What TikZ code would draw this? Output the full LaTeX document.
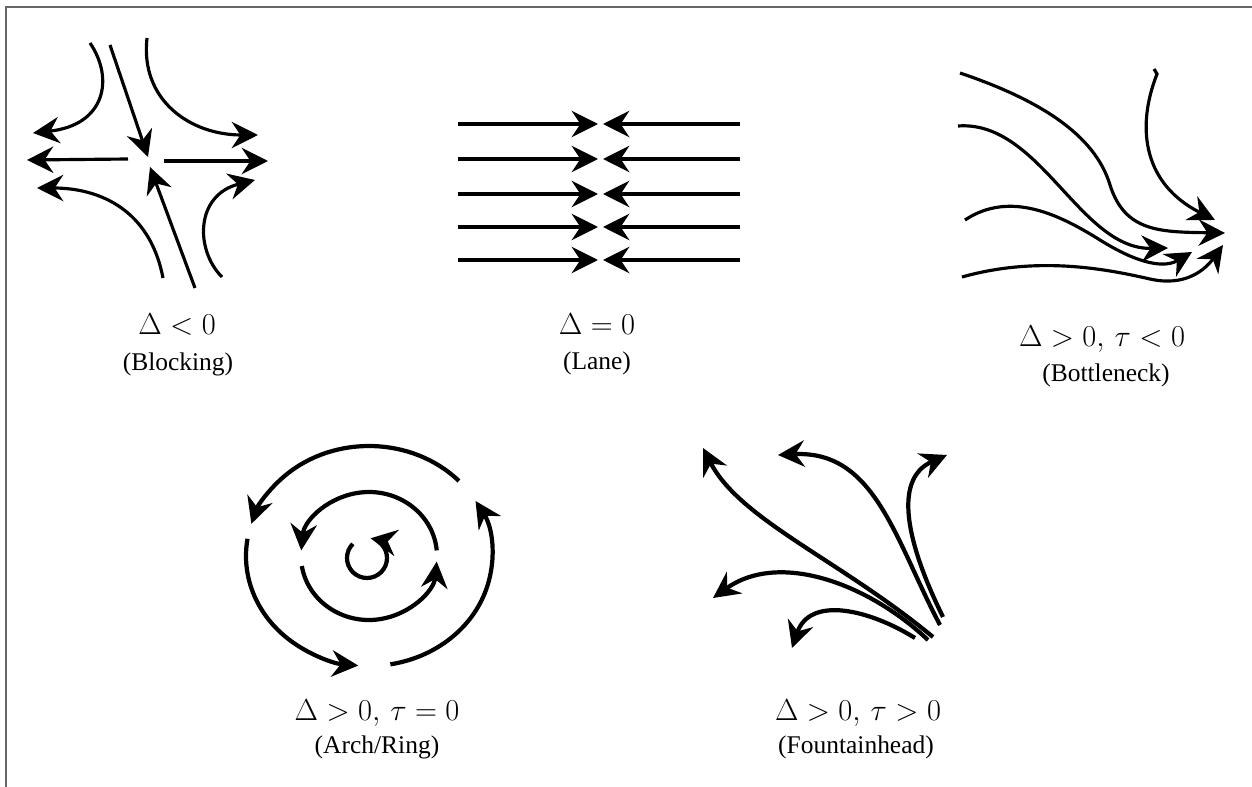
\documentclass[tikz,border=0pt]{standalone}
\usepackage{fontspec}
\setmainfont{Liberation Serif}
\usetikzlibrary{arrows.meta}

\begin{document}
\begin{tikzpicture}[
    x=0.02cm, y=0.02cm,
    >={Stealth[length=15pt, width=15pt, inset=5pt]},
    flow/.style      = {->, line width=1.8pt, black},
    flowthick/.style = {->, line width=2.4pt, black},
    cond/.style      = {font=\fontsize{16.6}{20}\selectfont, inner sep=0pt, anchor=base},
    case/.style      = {font=\fontsize{14.5}{17}\selectfont, inner sep=0pt, anchor=base},
    edgeline/.style  = {line width=1pt, black!60},
]
\useasboundingbox (0,0) rectangle (1252,-787);
\draw[edgeline] (6,-787) -- (6,-7) -- (1252,-7);

% ---------------- blocking ----------------
\draw[flow] (90,-43) .. controls (114,-78) and (106,-125) .. (33,-133);
\draw[flow] (110,-45) -- (148,-157);
\draw[flow] (147,-38) .. controls (140,-100) and (190,-135) .. (258,-135);
\draw[flow] (128,-159) -- (27,-160);
\draw[flow] (164,-161) -- (268,-161);
\draw[flow] (163,-278) .. controls (150,-210) and (100,-188) .. (37,-188);
\draw[flow] (195,-288) -- (150,-167);
\draw[flow] (222,-277) .. controls (195,-250) and (195,-195) .. (255,-180);
\node[cond] (blockcond) at (177,-335) {$\Delta < 0$};
\node[case] (blockcase) at (178,-371) {(Blocking)};

% ---------------- lane ----------------
\foreach \y in {124,159,194,227,260} {
    \draw[flow] (458,-\y) -- (598,-\y);
    \draw[flow] (740,-\y) -- (603,-\y);
}
\node[cond] (lanecond) at (597,-335) {$\Delta = 0$};
\node[case] (lanecase) at (597,-370) {(Lane)};

% ---------------- bottleneck ----------------
\draw[flow] (960,-73) .. controls (1040,-100) and (1095,-135) .. (1110,-185)
            .. controls (1125,-232) and (1160,-232) .. (1225,-233);
\draw[flow] (958,-126) .. controls (1040,-120) and (1080,-250) .. (1168,-248);
\draw[flow] (965,-220) .. controls (1010,-190) and (1060,-215) .. (1100,-240)
            .. controls (1140,-265) and (1165,-268) .. (1192,-252);
\draw[flow] (962,-277) .. controls (1040,-255) and (1110,-270) .. (1150,-279)
            .. controls (1185,-287) and (1205,-270) .. (1223,-245);
\draw[flow] (1154,-69) -- (1157,-74) .. controls (1135,-130) and (1145,-185) .. (1215,-220);
\node[cond] (neckcond) at (1102,-347) {$\Delta > 0,\, \tau < 0$};
\node[case] (neckcase) at (1106,-382) {(Bottleneck)};

% ---------------- arch / ring ----------------
\coordinate (ringc) at (369,-556);
\draw[flowthick] (ringc) ++(43:123 and 110) arc[start angle=43, end angle=163, x radius=123, y radius=110];
\draw[flowthick] (ringc) ++(171:123 and 110) arc[start angle=171, end angle=265, x radius=123, y radius=110];
\draw[flowthick] (ringc) ++(280:123 and 110) arc[start angle=280, end angle=390, x radius=123, y radius=110];
\draw[flowthick] (ringc) ++(5:68 and 64) arc[start angle=5, end angle=175, x radius=68, y radius=64];
\draw[flowthick] (ringc) ++(189:68 and 64) arc[start angle=189, end angle=355, x radius=68, y radius=64];
\draw[flowthick] (367,-558) ++(135:20) arc[start angle=135, end angle=440, radius=20];
\node[cond] (ringcond) at (377,-720) {$\Delta > 0,\, \tau = 0$};
\node[case] (ringcase) at (377,-753) {(Arch/Ring)};

% ---------------- fountainhead ----------------
\draw[flowthick] (933,-637) .. controls (840,-560) and (740,-520) .. (703,-448);
\draw[flowthick] (940,-625) .. controls (895,-540) and (875,-450) .. (778,-455);
\draw[flowthick] (943,-617) .. controls (910,-550) and (890,-480) .. (947,-455);
\draw[flowthick] (928,-640) .. controls (870,-585) and (780,-550) .. (713,-598);
\draw[flowthick] (915,-638) .. controls (870,-610) and (810,-595) .. (792,-648);
\node[cond] (fountcond) at (858,-720) {$\Delta > 0,\, \tau > 0$};
\node[case] (fountcase) at (856,-753) {(Fountainhead)};

\end{tikzpicture}
\end{document}
